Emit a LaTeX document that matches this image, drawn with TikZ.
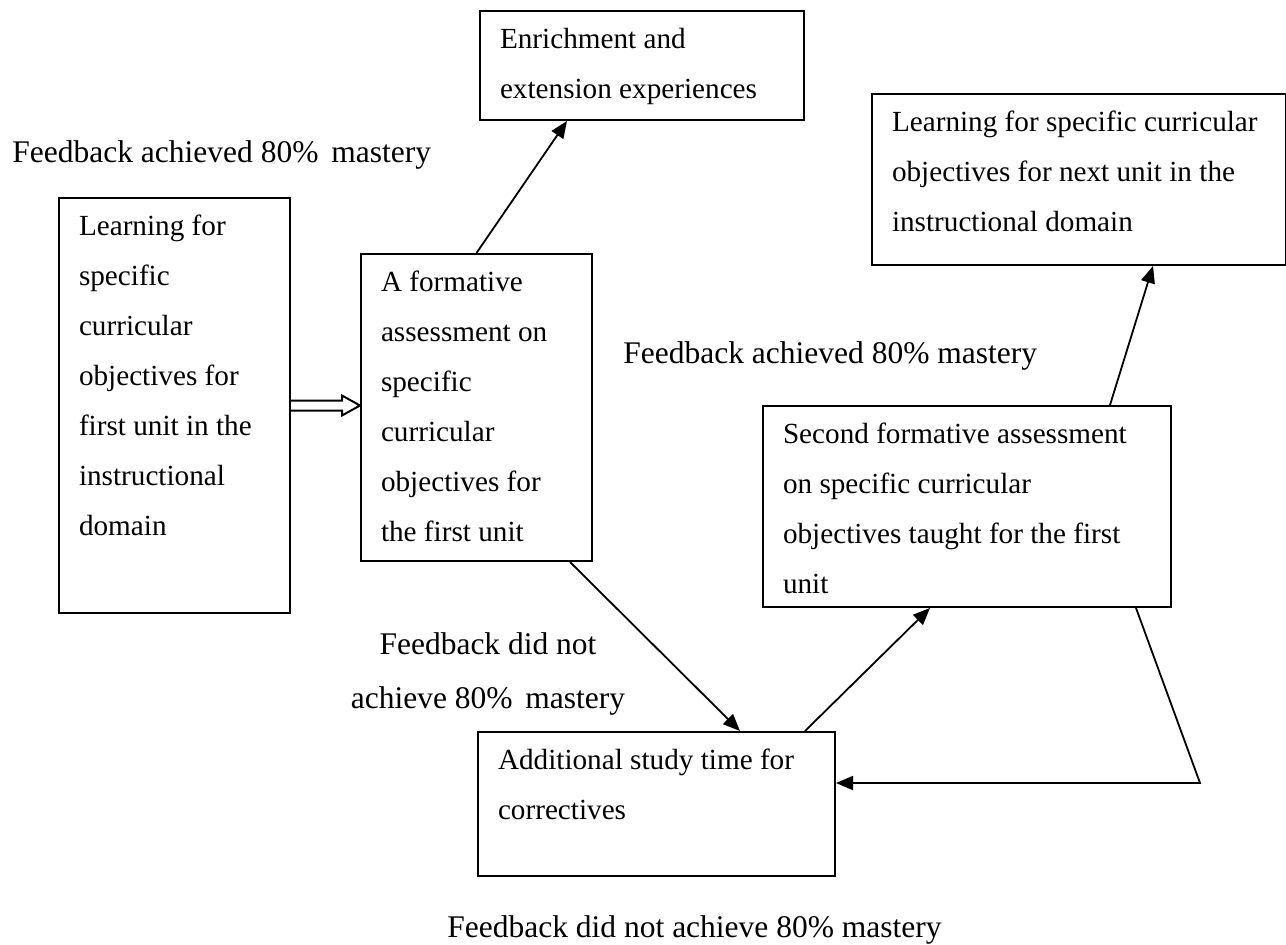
\documentclass[tikz,border=0pt]{standalone}
\usepackage{fontspec}
\setmainfont{Liberation Serif}
\usetikzlibrary{arrows.meta, calc, positioning}

% box content: width, height, lines
\newcommand{\boxtext}[3]{\parbox[t][#2][t]{#1}{\raggedright\rule{0pt}{10.5pt}#3}}

\begin{document}
\begin{tikzpicture}[
    x=0.5pt, y=-0.5pt,
    stagebox/.style={draw, line width=1pt, anchor=north west, inner xsep=10pt, inner ysep=8pt, font=\fontsize{14.6}{25}\selectfont},
    feedback/.style={inner sep=0pt, font=\fontsize{15.75}{27}\selectfont},
    arrow/.style={-{Triangle[length=8.5pt,width=7pt]}, line width=0.9pt},
    hollow/.style={line width=1pt}
]
\useasboundingbox (0,0) rectangle (1286,944);

\node[stagebox] (first)  at (58,197)  {\boxtext{95.5pt}{191.5pt}{Learning for\\specific\\curricular\\objectives for\\first unit in the\\instructional\\domain}};
\node[stagebox] (form)   at (360,253) {\boxtext{95.5pt}{137.5pt}{A formative\\assessment on\\specific\\curricular\\objectives for\\the first unit}};
\node[stagebox] (enrich) at (479,10)  {\boxtext{142pt}{38.5pt}{Enrichment and\\extension experiences}};
\node[stagebox] (next)   at (871,93)  {\boxtext{187pt}{69.5pt}{Learning for specific curricular\\objectives for next unit in the\\instructional domain}};
\node[stagebox] (second) at (762,405) {\boxtext{184pt}{84.5pt}{Second formative assessment\\on specific curricular\\objectives taught for the first\\unit}};
\node[stagebox] (extra)  at (477,731) {\boxtext{158.5pt}{56pt}{Additional study time for\\correctives}};

\node[feedback, anchor=base west] (fbtop)   at (12,162)  {Feedback achieved 80\%\kern2.5pt{} mastery};
\node[feedback, anchor=base west] (fbright) at (623,363) {Feedback achieved 80\% mastery};
\node[feedback, anchor=north, align=center] (fbleft) at (488,632) {Feedback did not\\achieve 80\%\kern2.5pt{} mastery};
\node[feedback, anchor=base west] (fbbottom) at (447,937) {Feedback did not achieve 80\% mastery};

\coordinate (corner) at (1200,783);

% hollow arrow
\draw[hollow] ($(first.east)+(0,-5)$) -- ($(form.west |- first.east)+(-18,-5)$) -- ($(form.west |- first.east)+(-18,-10)$)
    -- (form.west |- first.east) -- ($(form.west |- first.east)+(-18,10)$) -- ($(form.west |- first.east)+(-18,5)$) -- ($(first.east)+(0,5)$);

\draw[arrow] (form.north) -- ([xshift=44pt]enrich.south west);
\draw[arrow] ([xshift=-11.5pt]form.south east) -- ([xshift=131.5pt]extra.north west);
\draw[arrow] ([xshift=-15.5pt]extra.north east) -- ([xshift=84pt]second.south west);
\draw[arrow] ([xshift=-31pt]second.north east) -- ([xshift=141pt]next.south west);
\draw[arrow] ([xshift=-18pt]second.south east) -- (corner) -- (corner -| extra.east);

\end{tikzpicture}
\end{document}
